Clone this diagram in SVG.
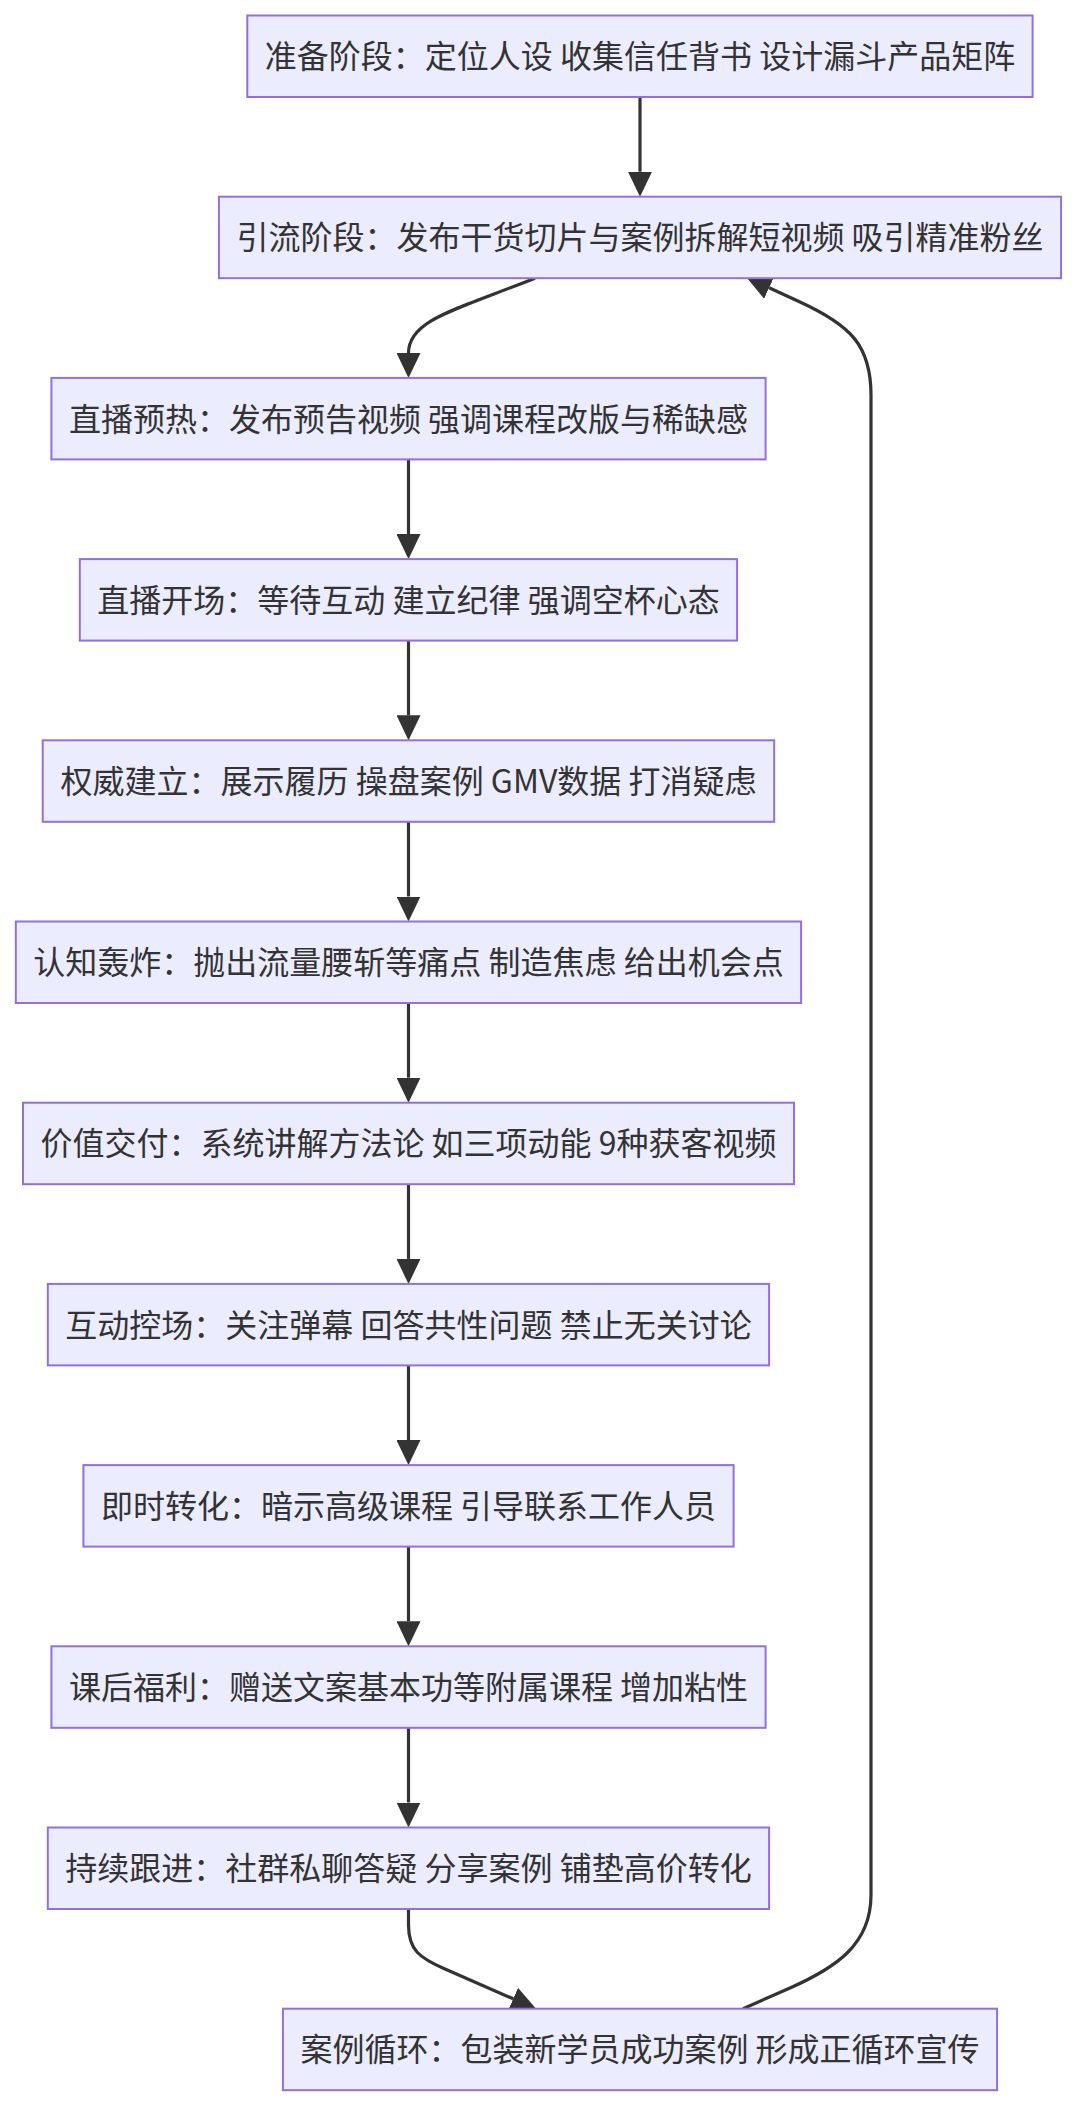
<svg xmlns="http://www.w3.org/2000/svg" width="1076" height="2108" viewBox="0 0 1076 2108">
<style>
.node rect{fill:#ECECFF;stroke:#9370DB;stroke-width:2}
.node text{font-family:"Noto Sans CJK SC",sans-serif;font-size:32px;fill:#333333;text-anchor:middle}
.edge{fill:none;stroke:#333333;stroke-width:3.2}
</style>
<defs>
<marker id="arr" viewBox="0 0 10 10" refX="0" refY="5" markerWidth="25" markerHeight="24" markerUnits="userSpaceOnUse" orient="auto" preserveAspectRatio="none"><path d="M0,0L10,5L0,10z" fill="#333333"/></marker>
</defs>
<rect width="1076" height="2108" fill="#ffffff"/>
<g id="edges">
<path class="edge" marker-end="url(#arr)" d="M640,97 L640,171.7"/>
<path class="edge" marker-end="url(#arr)" d="M535,278.2 C455,310 408.5,320 408.5,353"/>
<path class="edge" marker-end="url(#arr)" d="M408.5,459.4 L408.5,534.1"/>
<path class="edge" marker-end="url(#arr)" d="M408.5,640.6 L408.5,715.3"/>
<path class="edge" marker-end="url(#arr)" d="M408.5,821.8 L408.5,896.5"/>
<path class="edge" marker-end="url(#arr)" d="M408.5,1003 L408.5,1077.7"/>
<path class="edge" marker-end="url(#arr)" d="M408.5,1184.2 L408.5,1258.9"/>
<path class="edge" marker-end="url(#arr)" d="M408.5,1365.4 L408.5,1440.1"/>
<path class="edge" marker-end="url(#arr)" d="M408.5,1546.6 L408.5,1621.3"/>
<path class="edge" marker-end="url(#arr)" d="M408.5,1727.8 L408.5,1802.5"/>
<path class="edge" marker-end="url(#arr)" d="M408.5,1909 L408.5,1925 C408.5,1950 419.5,1958 445,1969 L513.2,1998.8"/>
<path class="edge" marker-end="url(#arr)" d="M743,2008.7 L790,1988 C835,1968 871,1945 871,1895 L871,395 C871,345 850,325 800,302 L769.1,287.8"/>
</g>
<g id="n1" class="node"><rect x="247.3" y="15.5" width="785.3" height="81.5"/><text x="640" y="68.25">准备阶段：定位人设 收集信任背书 设计漏斗产品矩阵</text></g>
<g id="n2" class="node"><rect x="218.9" y="196.7" width="842.2" height="81.5"/><text x="640" y="249.45">引流阶段：发布干货切片与案例拆解短视频 吸引精准粉丝</text></g>
<g id="n3" class="node"><rect x="51.4" y="377.9" width="714.2" height="81.5"/><text x="408.5" y="430.65">直播预热：发布预告视频 强调课程改版与稀缺感</text></g>
<g id="n4" class="node"><rect x="79.8" y="559.1" width="657.3" height="81.5"/><text x="408.5" y="611.85">直播开场：等待互动 建立纪律 强调空杯心态</text></g>
<g id="n5" class="node"><rect x="42.7" y="740.3" width="731.5" height="81.5"/><text x="408.5" y="793.05">权威建立：展示履历 操盘案例 GMV数据 打消疑虑</text></g>
<g id="n6" class="node"><rect x="15.8" y="921.5" width="785.3" height="81.5"/><text x="408.5" y="974.25">认知轰炸：抛出流量腰斩等痛点 制造焦虑 给出机会点</text></g>
<g id="n7" class="node"><rect x="23" y="1102.7" width="771" height="81.5"/><text x="408.5" y="1155.45">价值交付：系统讲解方法论 如三项动能 9种获客视频</text></g>
<g id="n8" class="node"><rect x="47.8" y="1283.9" width="721.3" height="81.5"/><text x="408.5" y="1336.65">互动控场：关注弹幕 回答共性问题 禁止无关讨论</text></g>
<g id="n9" class="node"><rect x="83.4" y="1465.1" width="650.2" height="81.5"/><text x="408.5" y="1517.85">即时转化：暗示高级课程 引导联系工作人员</text></g>
<g id="n10" class="node"><rect x="51.4" y="1646.3" width="714.2" height="81.5"/><text x="408.5" y="1699.05">课后福利：赠送文案基本功等附属课程 增加粘性</text></g>
<g id="n11" class="node"><rect x="47.8" y="1827.5" width="721.3" height="81.5"/><text x="408.5" y="1880.25">持续跟进：社群私聊答疑 分享案例 铺垫高价转化</text></g>
<g id="n12" class="node"><rect x="282.9" y="2008.7" width="714.2" height="81.5"/><text x="640" y="2061.45">案例循环：包装新学员成功案例 形成正循环宣传</text></g>
</svg>
